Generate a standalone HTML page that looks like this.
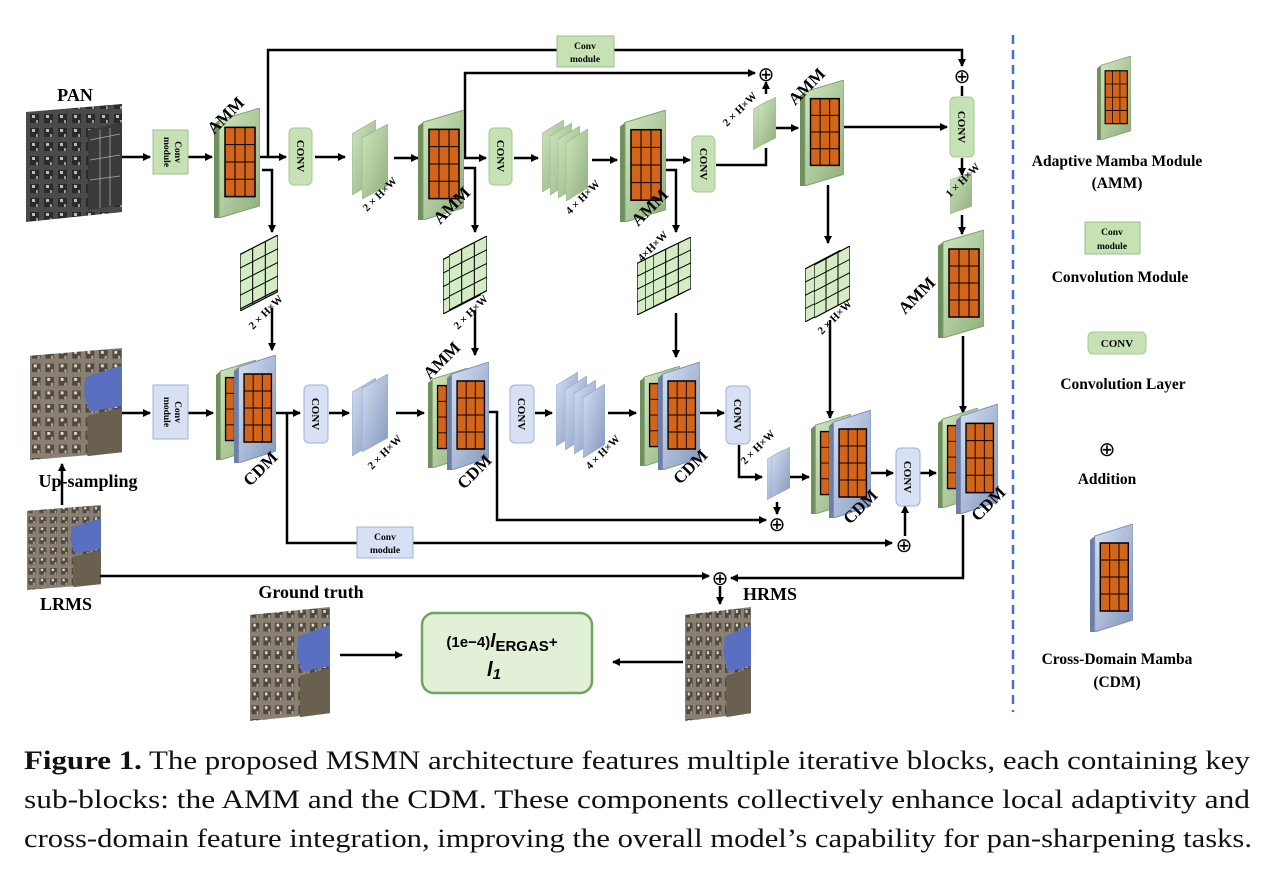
<!DOCTYPE html>
<html><head><meta charset="utf-8"><style>
body{margin:0;background:#fff;width:1285px;height:873px;overflow:hidden}
svg text{font-family:"Liberation Serif",serif;font-weight:bold}
svg text.cap{font-weight:normal;font-size:26px;fill:#111}
</style></head><body>
<svg width="1285" height="873" viewBox="0 0 1285 873" style="position:absolute;left:0;top:0">
<defs>
<linearGradient id="gg" x1="0" y1="0" x2="1" y2="1"><stop offset="0" stop-color="#cfe6bf"/><stop offset="1" stop-color="#8fae7c"/></linearGradient>
<linearGradient id="bg" x1="0" y1="0" x2="1" y2="1"><stop offset="0" stop-color="#d5e0f3"/><stop offset="1" stop-color="#8396bc"/></linearGradient>
<marker id="ar" markerWidth="8" markerHeight="8" refX="7" refY="4" orient="auto" markerUnits="userSpaceOnUse"><path d="M0,0 L8,4 L0,8 z" fill="#000"/></marker>
<symbol id="ammG" viewBox="0 0 46 108" preserveAspectRatio="none">
<polygon points="0,16 5,12 5,108 0,108" fill="#6f8f5c"/>
<polygon points="5,12 46,0 46,96 5,108" fill="url(#gg)" stroke="#7f9f6c"/>
<rect x="11" y="19" width="30" height="68" fill="#d2651a" stroke="#000" stroke-width="1.5"/>
<path d="M21,19V87M31,19V87M11,36H41M11,53H41M11,70H41" stroke="#000" stroke-width="1"/>
</symbol>
<symbol id="ammB" viewBox="0 0 46 108" preserveAspectRatio="none">
<polygon points="0,16 5,12 5,108 0,108" fill="#6e7fa6"/>
<polygon points="5,12 46,0 46,96 5,108" fill="url(#bg)" stroke="#7f8fb5"/>
<rect x="11" y="19" width="30" height="68" fill="#d2651a" stroke="#000" stroke-width="1.5"/>
<path d="M21,19V87M31,19V87M11,36H41M11,53H41M11,70H41" stroke="#000" stroke-width="1"/>
</symbol>
<symbol id="plG" viewBox="0 0 24 76" preserveAspectRatio="none"><polygon points="0,14 24,0 24,62 0,76" fill="url(#gg)" stroke="#9ab88a" stroke-width="0.8"/></symbol>
<symbol id="plB" viewBox="0 0 24 76" preserveAspectRatio="none"><polygon points="0,14 24,0 24,62 0,76" fill="url(#bg)" stroke="#9aaad0" stroke-width="0.8"/></symbol>
<symbol id="mesh" viewBox="0 0 36 76" preserveAspectRatio="none">
<polygon points="0,20 36,0 36,56 0,76" fill="#d4ecc4" stroke="#000" stroke-width="1.2"/>
<path d="M12,13.3V69.3M24,6.7V62.7M0,34L36,14M0,48L36,28M0,62L36,42" stroke="#000" stroke-width="1"/>
</symbol>
<pattern id="pan" width="14" height="14" patternUnits="userSpaceOnUse"><rect width="14" height="14" fill="#4a4a4a"/><rect x="2" y="2" width="9" height="9" fill="#2a2a2a"/><rect x="4" y="3" width="3" height="3" fill="#bbb"/><rect x="8" y="8" width="2" height="3" fill="#999"/></pattern>
<pattern id="ms" width="14" height="14" patternUnits="userSpaceOnUse"><rect width="14" height="14" fill="#8a7f70"/><rect x="2" y="2" width="9" height="9" fill="#4e4a42"/><rect x="4" y="3" width="3" height="3" fill="#e0ddd0"/><rect x="8" y="8" width="2" height="3" fill="#b8b0a0"/></pattern>
<symbol id="img" viewBox="0 0 96 116" preserveAspectRatio="none">
<polygon points="0,8 96,0 96,108 0,116" fill="url(#ms)"/>
<polygon points="58,30 96,18 96,60 62,66 56,48" fill="#5a6fc0"/>
<polygon points="60,70 96,62 96,108 60,112" fill="#6a6050"/>
</symbol>
</defs>

<line x1="1013" y1="35" x2="1013" y2="712" stroke="#4472c4" stroke-width="2.5" stroke-dasharray="9,6"/>

<polygon points="26,112 122,104 122,212 26,222" fill="url(#pan)"/>
<polygon points="88,130 122,122 122,205 88,210" fill="#3a3a3a"/>
<path d="M90,140L120,134M90,160L120,155M90,180L120,176M100,130V208M110,128V206" stroke="#aaa" stroke-width="0.8"/>
<text x="75" y="101" font-size="18" text-anchor="middle">PAN</text>
<use href="#img" x="30" y="348" width="92" height="112"/>
<text x="88" y="487" font-size="18" text-anchor="middle">Up-sampling</text>
<use href="#img" x="27" y="505" width="74" height="85"/>
<text x="66" y="610" font-size="18" text-anchor="middle">LRMS</text>
<use href="#img" x="250" y="607" width="80" height="114"/>
<text x="311" y="598" font-size="18" text-anchor="middle">Ground truth</text>
<use href="#img" x="685" y="607" width="66" height="114"/>
<text x="770" y="600" font-size="18" text-anchor="middle">HRMS</text>

<g stroke="#000" stroke-width="2.5" fill="none">
<path d="M122,157H150" marker-end="url(#ar)"/>
<path d="M188,157H212" marker-end="url(#ar)"/>
<path d="M260,157H286" marker-end="url(#ar)"/>
<path d="M268,157V50H962V66" marker-end="url(#ar)"/>
<path d="M262,170H272V232" marker-end="url(#ar)"/>
<path d="M315,157H345" marker-end="url(#ar)"/>
<path d="M394,158H418" marker-end="url(#ar)"/>
<path d="M462,158H486" marker-end="url(#ar)"/>
<path d="M465,158V73H755" marker-end="url(#ar)"/>
<path d="M462,168H475V232" marker-end="url(#ar)"/>
<path d="M514,158H538" marker-end="url(#ar)"/>
<path d="M592,160H617" marker-end="url(#ar)"/>
<path d="M666,160H690" marker-end="url(#ar)"/>
<path d="M666,170H676V232" marker-end="url(#ar)"/>
<path d="M716,165H766V148"/>
<path d="M766,94V82" marker-end="url(#ar)"/>
<path d="M776,128H798" marker-end="url(#ar)"/>
<path d="M843,127H947" marker-end="url(#ar)"/>
<path d="M962,86V96" />
<path d="M962,158V175" marker-end="url(#ar)"/>
<path d="M962,215V234" marker-end="url(#ar)"/>
<path d="M828,185V243" marker-end="url(#ar)"/>
<path d="M272,308V350" marker-end="url(#ar)"/>
<path d="M475,310V355" marker-end="url(#ar)"/>
<path d="M676,313V357" marker-end="url(#ar)"/>
<path d="M830,320V418" marker-end="url(#ar)"/>
<path d="M963,336V413" marker-end="url(#ar)"/>
<path d="M122,413H150" marker-end="url(#ar)"/>
<path d="M188,413H213" marker-end="url(#ar)"/>
<path d="M276,413H300" marker-end="url(#ar)"/>
<path d="M287,413V543H892" marker-end="url(#ar)"/>
<path d="M329,413H349" marker-end="url(#ar)"/>
<path d="M396,413H424" marker-end="url(#ar)"/>
<path d="M488,412H497V520H766" marker-end="url(#ar)"/>
<path d="M535,413H552" marker-end="url(#ar)"/>
<path d="M608,413H636" marker-end="url(#ar)"/>
<path d="M700,413H724" marker-end="url(#ar)"/>
<path d="M739,445V477H762" marker-end="url(#ar)"/>
<path d="M787,477H809" marker-end="url(#ar)"/>
<path d="M777,502V514" marker-end="url(#ar)"/>
<path d="M870,473H893" marker-end="url(#ar)"/>
<path d="M920,473H936" marker-end="url(#ar)"/>
<path d="M905,536V506" marker-end="url(#ar)"/>
<path d="M963,515V578H731" marker-end="url(#ar)"/>
<path d="M100,576H709" marker-end="url(#ar)"/>
<path d="M720,586V604" marker-end="url(#ar)"/>
<path d="M62,505V464" marker-end="url(#ar)"/>
<path d="M340,655H402" marker-end="url(#ar)"/>
<path d="M683,662H613" marker-end="url(#ar)"/>
</g>

<g font-size="20" text-anchor="middle">
<text x="766" y="81" style="font-weight:normal">⊕</text>
<text x="962" y="83" style="font-weight:normal">⊕</text>
<text x="777" y="531" style="font-weight:normal">⊕</text>
<text x="904" y="552" style="font-weight:normal">⊕</text>
<text x="720" y="585" style="font-weight:normal">⊕</text>
<text x="1107" y="456" style="font-weight:normal">⊕</text>
</g>

<g font-size="9.5" text-anchor="middle">
<rect x="153" y="130" width="35" height="44" fill="#c6e2b4" stroke="#9bc08a"/>
<text transform="translate(175,152) rotate(90)">Conv</text><text transform="translate(164,152) rotate(90)">module</text>
<rect x="153" y="385" width="35" height="54" fill="#d7e1f3" stroke="#9eb2d8"/>
<text transform="translate(175,412) rotate(90)">Conv</text><text transform="translate(164,412) rotate(90)">module</text>
<rect x="557" y="36" width="57" height="31" fill="#c6e2b4" stroke="#9bc08a"/>
<text x="585" y="49">Conv</text><text x="585" y="62">module</text>
<rect x="357" y="527" width="56" height="31" fill="#d7e1f3" stroke="#9eb2d8"/>
<text x="385" y="540">Conv</text><text x="385" y="553">module</text>
<rect x="1085" y="222" width="55" height="32" fill="#c6e2b4" stroke="#9bc08a"/>
<text x="1112" y="235">Conv</text><text x="1112" y="249">module</text>
</g>

<g font-size="11" text-anchor="middle">
<rect x="289" y="128" width="23" height="57" rx="5" fill="#c6e2b4" stroke="#a6c896"/><text transform="translate(297,156) rotate(90)" >CONV</text>
<rect x="489" y="128" width="23" height="57" rx="5" fill="#c6e2b4" stroke="#a6c896"/><text transform="translate(497,156) rotate(90)">CONV</text>
<rect x="692" y="136" width="23" height="56" rx="5" fill="#c6e2b4" stroke="#a6c896"/><text transform="translate(700,164) rotate(90)">CONV</text>
<rect x="950" y="97" width="24" height="60" rx="5" fill="#c6e2b4" stroke="#a6c896"/><text transform="translate(958,127) rotate(90)">CONV</text>
<rect x="304" y="385" width="24" height="58" rx="5" fill="#d7e1f3" stroke="#9eb2d8"/><text transform="translate(312,414) rotate(90)">CONV</text>
<rect x="510" y="385" width="24" height="58" rx="5" fill="#d7e1f3" stroke="#9eb2d8"/><text transform="translate(518,414) rotate(90)">CONV</text>
<rect x="726" y="386" width="24" height="58" rx="5" fill="#d7e1f3" stroke="#9eb2d8"/><text transform="translate(734,415) rotate(90)">CONV</text>
<rect x="896" y="448" width="24" height="58" rx="5" fill="#d7e1f3" stroke="#9eb2d8"/><text transform="translate(904,477) rotate(90)">CONV</text>
<rect x="1088" y="332" width="58" height="22" rx="5" fill="#c6e2b4" stroke="#a6c896"/><text x="1117" y="347">CONV</text>
</g>

<use href="#plG" x="352" y="120" width="24" height="75"/><use href="#plG" x="362" y="124" width="26" height="75"/>
<use href="#plG" x="542" y="120" width="22" height="72"/><use href="#plG" x="550" y="123" width="22" height="72"/><use href="#plG" x="558" y="126" width="22" height="72"/><use href="#plG" x="566" y="129" width="22" height="72"/>
<use href="#plG" x="753" y="100" width="16" height="50"/><use href="#plG" x="758" y="97" width="18" height="50"/>
<use href="#plG" x="950" y="172" width="22" height="42"/>
<use href="#plB" x="352" y="378" width="24" height="78"/><use href="#plB" x="362" y="374" width="26" height="78"/>
<use href="#plB" x="556" y="372" width="22" height="74"/><use href="#plB" x="565" y="376" width="22" height="74"/><use href="#plB" x="574" y="380" width="22" height="74"/><use href="#plB" x="583" y="384" width="22" height="74"/>
<use href="#plB" x="767" y="450" width="16" height="50"/><use href="#plB" x="772" y="447" width="18" height="50"/>

<use href="#mesh" x="240" y="237" width="38" height="74"/>
<use href="#mesh" x="443" y="240" width="38" height="74"/>
<use href="#mesh" x="449" y="236" width="38" height="74"/>
<use href="#mesh" x="637" y="245" width="38" height="70"/><use href="#mesh" x="645" y="241" width="38" height="70"/><use href="#mesh" x="653" y="237" width="38" height="70"/>
<use href="#mesh" x="805" y="250" width="36" height="72"/><use href="#mesh" x="814" y="246" width="36" height="72"/>
<use href="#mesh" x="240" y="235" width="38" height="74"/>

<use href="#ammG" x="214" y="108" width="46" height="110"/>
<use href="#ammG" x="418" y="110" width="46" height="110"/>
<use href="#ammG" x="620" y="110" width="46" height="112"/>
<use href="#ammG" x="800" y="80" width="44" height="106"/>
<use href="#ammG" x="938" y="230" width="46" height="108"/>
<use href="#ammG" x="1097" y="56" width="34" height="84"/>
<use href="#ammG" x="216" y="360" width="40" height="100"/><use href="#ammB" x="234" y="355" width="42" height="108"/>
<use href="#ammG" x="428" y="368" width="40" height="100"/><use href="#ammB" x="447" y="362" width="42" height="108"/>
<use href="#ammG" x="640" y="366" width="40" height="100"/><use href="#ammB" x="658" y="362" width="42" height="108"/>
<use href="#ammG" x="811" y="414" width="40" height="100"/><use href="#ammB" x="829" y="410" width="42" height="108"/>
<use href="#ammG" x="938" y="408" width="40" height="100"/><use href="#ammB" x="956" y="404" width="42" height="110"/>
<use href="#ammB" x="1090" y="524" width="43" height="108"/>

<g font-size="17">
<text transform="translate(214,135) rotate(-45)">AMM</text>
<text transform="translate(440,225) rotate(-45)">AMM</text>
<text transform="translate(638,227) rotate(-45)">AMM</text>
<text transform="translate(795,106) rotate(-45)">AMM</text>
<text transform="translate(905,315) rotate(-45)">AMM</text>
<text transform="translate(430,380) rotate(-45)">AMM</text>
<text transform="translate(250,487) rotate(-45)">CDM</text>
<text transform="translate(464,490) rotate(-45)">CDM</text>
<text transform="translate(680,485) rotate(-45)">CDM</text>
<text transform="translate(850,525) rotate(-45)">CDM</text>
<text transform="translate(978,522) rotate(-45)">CDM</text>
</g>
<g font-size="11">
<text transform="translate(367,212) rotate(-45)">2 × H×W</text>
<text transform="translate(570,215) rotate(-45)">4 × H×W</text>
<text transform="translate(727,127) rotate(-45)">2 × H×W</text>
<text transform="translate(950,198) rotate(-45)">1 × H×W</text>
<text transform="translate(253,330) rotate(-45)">2 × H×W</text>
<text transform="translate(458,330) rotate(-45)">2 × H×W</text>
<text transform="translate(642,262) rotate(-45)">4×H×W</text>
<text transform="translate(822,335) rotate(-45)">2 × H×W</text>
<text transform="translate(372,470) rotate(-45)">2 × H×W</text>
<text transform="translate(590,470) rotate(-45)">4 × H×W</text>
<text transform="translate(745,465) rotate(-45)">2 × H×W</text>
</g>

<rect x="422" y="613" width="170" height="80" rx="12" fill="#e1f0d6" stroke="#6fa55a" stroke-width="2.5"/>
<text x="502" y="647" font-size="15" text-anchor="middle" style="font-family:'Liberation Sans',sans-serif">(1e−4)<tspan font-size="19" font-style="italic">l</tspan><tspan font-size="15" dy="4">ERGAS</tspan><tspan dy="-4">+</tspan></text>
<text x="487" y="676" font-size="20" style="font-family:'Liberation Sans',sans-serif" font-style="italic">l<tspan font-size="15" dy="3">1</tspan></text>

<g font-size="15.5" text-anchor="middle">
<text x="1117" y="166">Adaptive Mamba Module</text><text x="1117" y="188">(AMM)</text>
<text x="1120" y="282">Convolution Module</text>
<text x="1123" y="389">Convolution Layer</text>
<text x="1107" y="484">Addition</text>
<text x="1117" y="664">Cross-Domain Mamba</text><text x="1117" y="687">(CDM)</text>
</g>

<text class="cap" x="24" y="769" textLength="1226" lengthAdjust="spacingAndGlyphs"><tspan font-weight="bold">Figure 1.</tspan> The proposed MSMN architecture features multiple iterative blocks, each containing key</text>
<text class="cap" x="24" y="808" textLength="1226" lengthAdjust="spacingAndGlyphs">sub-blocks: the AMM and the CDM. These components collectively enhance local adaptivity and</text>
<text class="cap" x="24" y="847" textLength="1228" lengthAdjust="spacingAndGlyphs">cross-domain feature integration, improving the overall model’s capability for pan-sharpening tasks.</text>
</svg>
</body></html>
